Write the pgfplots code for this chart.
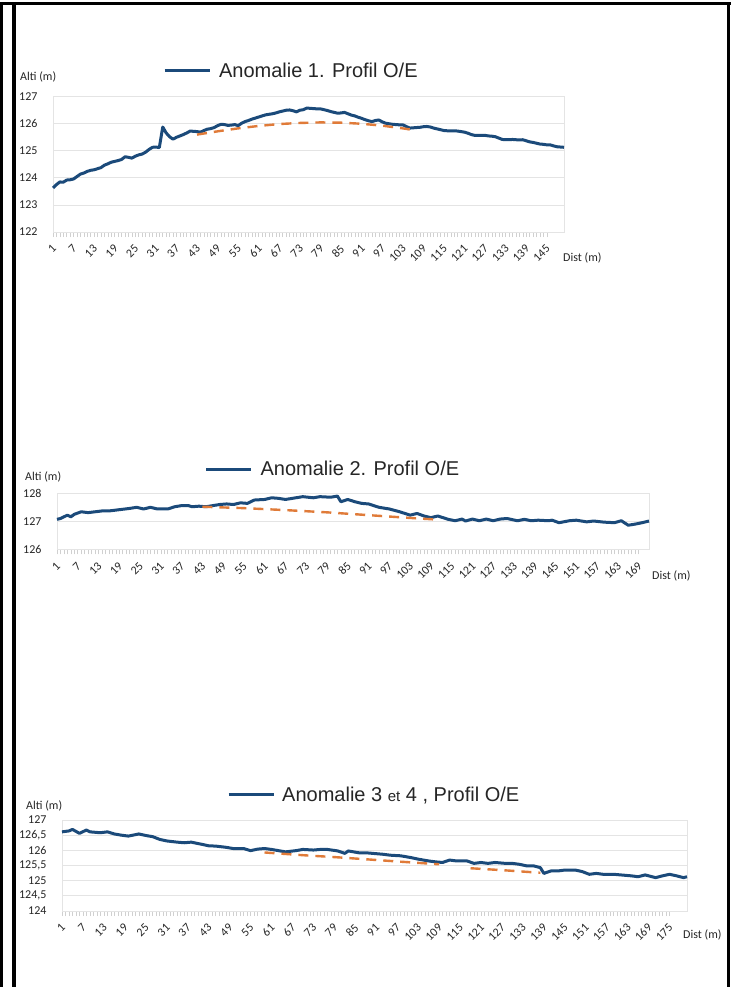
\documentclass[border=0pt]{standalone}
\usepackage{fontspec}
\setmainfont{Liberation Sans}
\newfontfamily\calib{Carlito}
\usepackage{pgfplots}
\pgfplotsset{compat=1.18}
\definecolor{lineblue}{HTML}{1B4A7A}
\definecolor{dashor}{HTML}{E07B39}
\definecolor{gridc}{HTML}{E4E4E4}
\definecolor{tickc}{HTML}{D0D0D0}
\definecolor{txt}{HTML}{262626}

\pgfplotsset{
  prof/.style={
    scale only axis, anchor=south west,
    xmin=1,
    axis line style={draw=gridc, line width=0.8pt},
    ymajorgrids, grid style={draw=gridc, line width=0.8pt},
    xtick pos=bottom, ytick pos=left,
    tick align=outside,
    major tick length=5pt, minor tick length=5pt,
    minor x tick num=5,
    x tick style={draw=tickc, line width=0.6pt},
    minor x tick style={draw=tickc, line width=0.6pt},
    y tick style={draw=none},
    /pgf/number format/assume math mode=true,
    /pgf/number format/use comma,
    /pgf/number format/1000 sep={},
    xticklabel style={yshift=-9pt, xshift=2pt, rotate=45, anchor=east, font=\calib\fontsize{12}{12}\selectfont, text=txt, inner sep=1pt},
    yticklabel style={font=\calib\fontsize{12}{12}\selectfont, text=txt, xshift=-7pt},
    legend style={draw=none, fill=none, anchor=west, font=\fontsize{20}{20}\selectfont, text=txt, inner sep=0pt},
    legend image code/.code={\draw[##1] (0pt,0pt) -- (45pt,0pt);},
    clip=false,
  },
  blueline/.style={color=lineblue, line width=3pt, line join=round},
  dashline/.style={color=dashor, line width=2.4pt, dash pattern=on 10pt off 7pt},
}

\begin{document}
\begin{tikzpicture}
\path[use as bounding box] (0pt,0pt) rectangle (733pt,-987pt);
\fill[white] (0pt,0pt) rectangle (733pt,-987pt);
% frame
\fill[black] (0pt,-2pt) rectangle (731pt,-5.5pt);
\fill[black] (0pt,-2pt) rectangle (3pt,-987pt);
\fill[black] (12pt,-4pt) rectangle (16pt,-987pt);
\fill[black] (726.5pt,-2pt) rectangle (730pt,-987pt);

% ---------------- Chart 1
\begin{axis}[prof, at={(53pt,-232pt)}, width=511pt, height=135.3pt,
  xmax=150, ymin=122, ymax=127, ytick={122,...,127},
  xtick={1,7,...,145},
  legend style={at={(axis description cs:0.215,1.193)}}]
\addplot[blueline] table {
x y
1 123.63
2 123.75
3 123.85
4 123.84
5 123.92
6 123.93
7 123.96
8 124.05
9 124.14
10 124.18
11 124.24
12 124.28
13 124.30
14 124.34
15 124.38
16 124.47
17 124.52
18 124.58
19 124.61
20 124.64
21 124.68
22 124.78
23 124.76
24 124.73
25 124.80
26 124.85
27 124.88
28 124.95
29 125.05
30 125.13
31 125.14
32 125.12
33 125.88
34 125.66
35 125.52
36 125.43
37 125.50
38 125.55
39 125.60
40 125.66
41 125.73
42 125.72
43 125.71
44 125.69
45 125.75
46 125.80
47 125.82
48 125.86
49 125.93
50 125.98
51 125.97
52 125.94
53 125.95
54 125.97
55 125.93
56 126.02
57 126.08
58 126.12
59 126.17
60 126.21
61 126.25
62 126.29
63 126.33
64 126.35
65 126.37
66 126.40
67 126.44
68 126.47
69 126.50
70 126.51
71 126.48
72 126.44
73 126.50
74 126.52
75 126.58
76 126.57
77 126.56
78 126.55
79 126.55
80 126.52
81 126.49
82 126.45
83 126.42
84 126.39
85 126.40
86 126.42
87 126.37
88 126.32
89 126.29
90 126.24
91 126.20
92 126.15
93 126.11
94 126.08
95 126.12
96 126.14
97 126.07
98 126.02
99 126.00
100 125.98
101 125.97
102 125.96
103 125.96
104 125.90
105 125.84
106 125.85
107 125.86
108 125.87
109 125.89
110 125.90
111 125.88
112 125.84
113 125.81
114 125.78
115 125.75
116 125.74
117 125.74
118 125.74
119 125.73
120 125.71
121 125.69
122 125.65
123 125.60
124 125.57
125 125.57
126 125.57
127 125.57
128 125.55
129 125.54
130 125.52
131 125.47
132 125.42
133 125.41
134 125.41
135 125.42
136 125.41
137 125.40
138 125.41
139 125.37
140 125.33
141 125.31
142 125.28
143 125.25
144 125.24
145 125.22
146 125.22
147 125.18
148 125.15
149 125.14
150 125.13
};
\addlegendentry{\hspace{6pt}Anomalie 1. Profil O/E}
\addplot[dashline, forget plot] table {
x y
43 125.60
49 125.72
55 125.83
61 125.92
67 125.99
73 126.03
79 126.05
85 126.04
91 126.00
97 125.93
103 125.83
105 125.79
};
\end{axis}

% ---------------- Chart 2
\begin{axis}[prof, at={(57pt,-549.3pt)}, width=592pt, height=56pt,
  xmax=172, ymin=126, ymax=128, ytick={126,127,128},
  xtick={1,7,...,169},
  legend style={at={(axis description cs:0.249,1.43)}}]
\addplot[blueline] table {
x y
1 127.07
2 127.10
4 127.22
5 127.16
6 127.25
8 127.34
10 127.31
12 127.34
14 127.37
16 127.37
18 127.40
20 127.43
22 127.46
24 127.50
26 127.44
28 127.50
30 127.44
33 127.44
35 127.52
37 127.56
39 127.56
40 127.52
42 127.54
44 127.52
46 127.56
48 127.60
50 127.62
52 127.60
54 127.66
56 127.64
58 127.76
61 127.78
63 127.84
65 127.82
67 127.78
70 127.84
72 127.88
75 127.84
77 127.88
80 127.86
82 127.90
83 127.70
85 127.78
87 127.70
89 127.64
91 127.62
94 127.50
97 127.44
100 127.34
103 127.22
105 127.28
107 127.19
109 127.13
111 127.19
114 127.07
116 127.02
118 127.08
119 127.01
121 127.08
123 127.02
125 127.08
127 127.02
129 127.08
131 127.10
134 127.02
136 127.07
138 127.02
140 127.04
143 127.02
144 127.04
146 126.95
149 127.02
151 127.04
154 126.98
156 127.01
159 126.97
162 126.95
164 127.02
166 126.86
168 126.90
170 126.95
172 127.01
};
\addlegendentry{\hspace{6pt}Anomalie 2. Profil O/E}
\addplot[dashline, forget plot] table {
x y
43 127.52
55 127.47
67 127.40
79 127.32
91 127.22
103 127.12
111 127.06
};
\end{axis}

% ---------------- Chart 3
\begin{axis}[prof, at={(62pt,-911pt)}, width=625pt, height=91pt,
  xmax=180, ymin=124, ymax=127, ytick={124,124.5,...,127},
  xtick={1,7,...,175},
  legend style={at={(axis description cs:0.264,1.275)}}]
\addplot[blueline] table {
x y
1 126.61
3 126.64
4 126.69
6 126.56
8 126.67
9 126.61
12 126.58
14 126.61
16 126.54
18 126.50
20 126.47
23 126.54
25 126.49
27 126.45
29 126.36
31 126.31
34 126.27
36 126.25
38 126.27
41 126.20
43 126.15
45 126.14
48 126.10
50 126.06
53 126.06
55 125.99
57 126.04
59 126.06
61 126.03
63 125.99
65 125.95
68 125.99
70 126.03
73 126.01
75 126.03
77 126.03
80 125.98
82 125.90
83 125.98
86 125.92
88 125.92
90 125.90
93 125.87
95 125.84
98 125.82
101 125.76
103 125.71
106 125.65
108 125.62
110 125.60
112 125.68
114 125.65
117 125.65
119 125.57
121 125.60
123 125.57
125 125.60
128 125.57
130 125.57
132 125.54
134 125.49
136 125.49
138 125.43
139 125.24
141 125.32
143 125.32
145 125.35
148 125.35
150 125.30
152 125.21
154 125.24
156 125.21
159 125.21
161 125.19
164 125.16
166 125.13
168 125.19
169 125.16
171 125.10
173 125.16
175 125.21
177 125.16
179 125.10
180 125.13
};
\addlegendentry{\hspace{5pt}Anomalie 3 {\fontsize{15}{15}\selectfont et} 4 , Profil O/E}
\addplot[dashline, forget plot] table {
x y
59 125.93
70 125.84
80 125.77
90 125.69
100 125.61
109 125.54
};
\addplot[dashline, forget plot] table {
x y
118 125.41
128 125.34
138 125.26
};
\end{axis}

% axis titles
\node[anchor=west, font=\calib\fontsize{12}{12}\selectfont, text=txt, inner sep=0pt] at (20pt,-76.5pt) {Alti (m)};
\node[anchor=west, font=\calib\fontsize{12}{12}\selectfont, text=txt, inner sep=0pt] at (563pt,-258pt) {Dist (m)};
\node[anchor=west, font=\calib\fontsize{12}{12}\selectfont, text=txt, inner sep=0pt] at (25pt,-477pt) {Alti (m)};
\node[anchor=west, font=\calib\fontsize{12}{12}\selectfont, text=txt, inner sep=0pt] at (652pt,-576pt) {Dist (m)};
\node[anchor=west, font=\calib\fontsize{12}{12}\selectfont, text=txt, inner sep=0pt] at (26pt,-806pt) {Alti (m)};
\node[anchor=west, font=\calib\fontsize{12}{12}\selectfont, text=txt, inner sep=0pt] at (683pt,-935pt) {Dist (m)};
\end{tikzpicture}
\end{document}
